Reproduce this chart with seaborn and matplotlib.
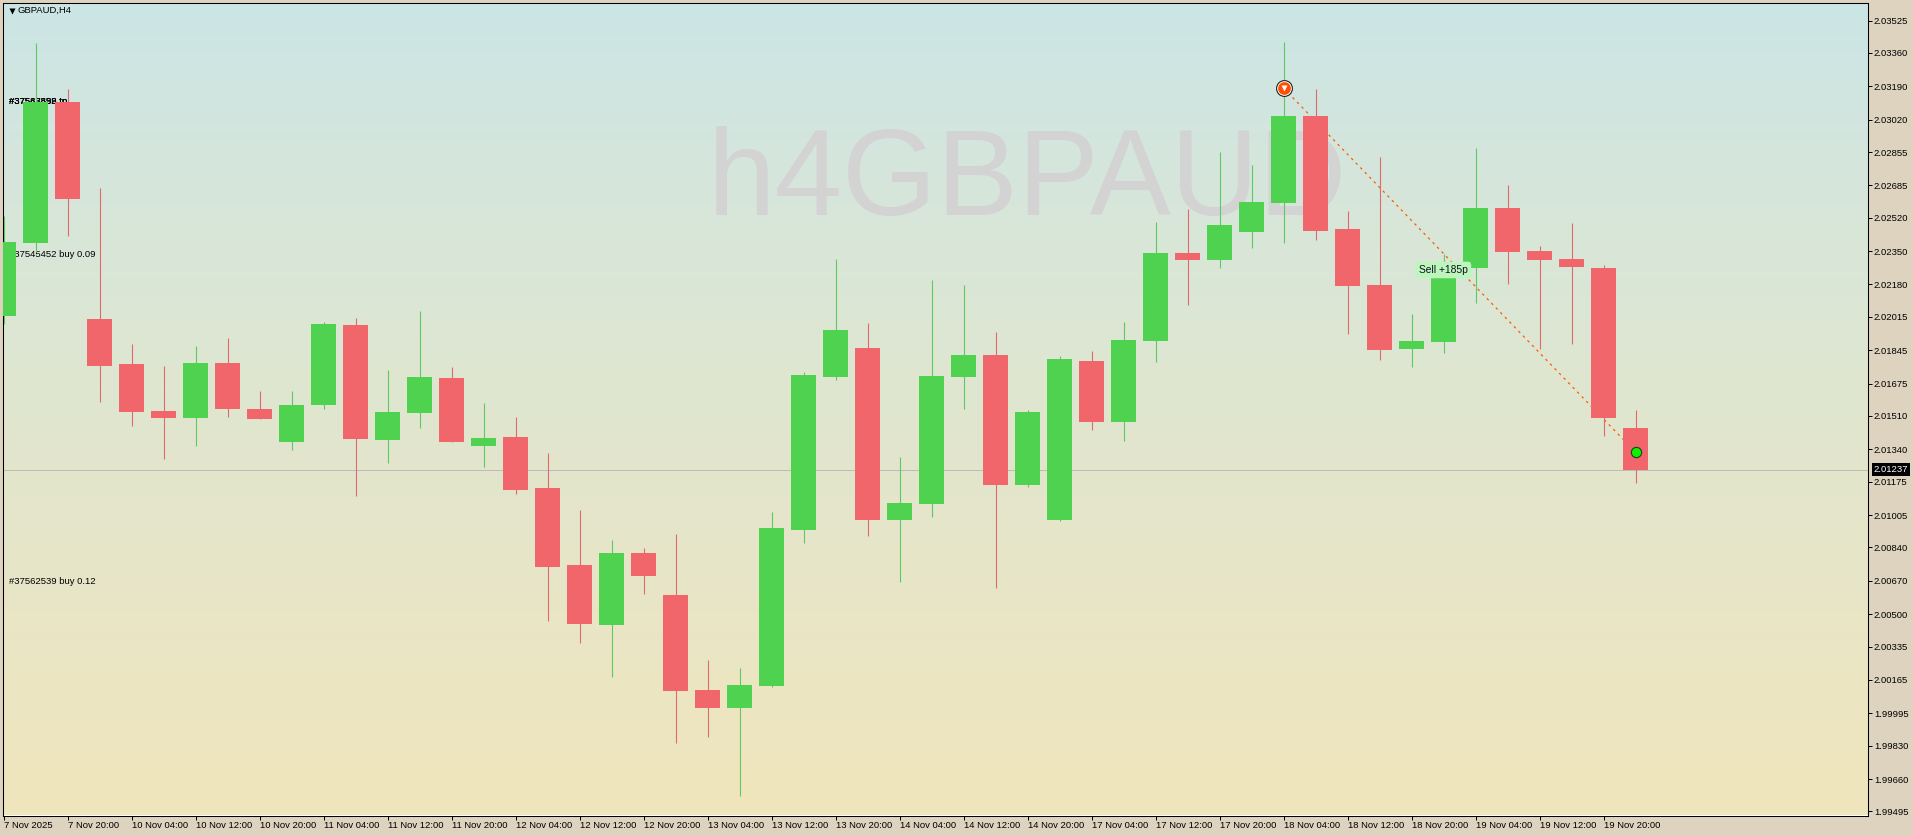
import numpy as np
import pandas as pd
import seaborn as sns
import matplotlib.pyplot as plt
from matplotlib.colors import LinearSegmentedColormap

opens = [2.02019, 2.02391, 2.03110, 2.02004, 2.01775, 2.01535, 2.01499, 2.01780, 2.01545, 2.01377,
         2.01566, 2.01973, 2.01387, 2.01525, 2.01703, 2.01357, 2.01403, 2.01143, 2.00750, 2.00445,
         2.00812, 2.00598, 2.00113, 2.00022, 2.00134, 2.00929, 2.01708, 2.01856, 2.00980, 2.01061,
         2.01708, 2.01821, 2.01158, 2.00980, 2.01790, 2.01479, 2.01892, 2.02340, 2.02305, 2.02447,
         2.02595, 2.03038, 2.02463, 2.02177, 2.01851, 2.01887, 2.02264, 2.02570, 2.02350, 2.02310,
         2.02264, 2.01449]
highs = [2.02529, 2.03410, 2.03176, 2.02672, 2.01877, 2.01764, 2.01866, 2.01907, 2.01637, 2.01637,
         2.01989, 2.02009, 2.01744, 2.02045, 2.01759, 2.01576, 2.01505, 2.01321, 2.01031, 2.00878,
         2.00837, 2.00908, 2.00266, 2.00225, 2.01020, 2.01734, 2.02310, 2.01984, 2.01301, 2.02203,
         2.02177, 2.01938, 2.01540, 2.01815, 2.01841, 2.01989, 2.02498, 2.02565, 2.02855, 2.02789,
         2.03415, 2.03176, 2.02554, 2.02830, 2.02029, 2.02335, 2.02875, 2.02687, 2.02376, 2.02493,
         2.02279, 2.01540]
lows = [2.01978, 2.02345, 2.02427, 2.01581, 2.01459, 2.01291, 2.01357, 2.01505, 2.01494, 2.01336,
        2.01545, 2.01102, 2.01270, 2.01449, 2.01377, 2.01250, 2.01112, 2.00465, 2.00353, 2.00180,
        2.00603, 1.99843, 1.99874, 1.99573, 2.00129, 2.00862, 2.01693, 2.00898, 2.00664, 2.00995,
        2.01545, 2.00633, 2.01148, 2.00975, 2.01438, 2.01382, 2.01785, 2.02075, 2.02264, 2.02366,
        2.02391, 2.02407, 2.01928, 2.01795, 2.01759, 2.01831, 2.02085, 2.02182, 2.01851, 2.01877,
        2.01408, 2.01168]
closes = [2.02396, 2.03110, 2.02615, 2.01764, 2.01530, 2.01499, 2.01780, 2.01545, 2.01494, 2.01566,
          2.01978, 2.01392, 2.01530, 2.01708, 2.01377, 2.01398, 2.01133, 2.00740, 2.00450, 2.00812,
          2.00694, 2.00109, 2.00022, 2.00139, 2.00939, 2.01719, 2.01948, 2.00980, 2.01066, 2.01714,
          2.01821, 2.01158, 2.01530, 2.01800, 2.01479, 2.01897, 2.02340, 2.02305, 2.02483, 2.02600,
          2.03038, 2.02452, 2.02172, 2.01846, 2.01892, 2.02213, 2.02570, 2.02345, 2.02305, 2.02269,
          2.01499, 2.01237]

time_labels = ["7 Nov 2025", "7 Nov 20:00", "10 Nov 04:00", "10 Nov 12:00", "10 Nov 20:00", "11 Nov 04:00",
               "11 Nov 12:00", "11 Nov 20:00", "12 Nov 04:00", "12 Nov 12:00", "12 Nov 20:00", "13 Nov 04:00",
               "13 Nov 12:00", "13 Nov 20:00", "14 Nov 04:00", "14 Nov 12:00", "14 Nov 20:00", "17 Nov 04:00",
               "17 Nov 12:00", "17 Nov 20:00", "18 Nov 04:00", "18 Nov 12:00", "18 Nov 20:00", "19 Nov 04:00",
               "19 Nov 12:00", "19 Nov 20:00"]
price_ticks = [2.03525, 2.03360, 2.03190, 2.03020, 2.02855, 2.02685, 2.02520, 2.02350, 2.02180,
               2.02015, 2.01845, 2.01675, 2.01510, 2.01340, 2.01175, 2.01005, 2.00840, 2.00670,
               2.00500, 2.00335, 2.00165, 1.99995, 1.99830, 1.99660, 1.99495]

last_price = 2.01237
trade_x = [40, 51]
trade_y = [2.03181, 2.01326]

GREEN = "#4fd250"
RED = "#f0666a"
GREEN_WICK = "#5cc962"
RED_WICK = "#e0696c"
OUTER = "#ded3bf"
FONT_PX = 9.5
FS = FONT_PX * 0.72

sns.set_theme(style="white")
plt.rcParams["font.family"] = ["Liberation Sans", "DejaVu Sans"]

df = pd.DataFrame({"pos": range(len(opens)), "open": opens, "high": highs, "low": lows, "close": closes})
df["up"] = df["close"] >= df["open"]
df["height"] = (df["close"] - df["open"]).abs()
df["base"] = df[["open", "close"]].min(axis=1)

W, H = 1913, 836
fig = plt.figure(figsize=(W / 100, H / 100), dpi=100, facecolor=OUTER)
ax = fig.add_axes([2.5 / W, 1 - 815.5 / H, 1865 / W, 813 / H])

xlim = (-0.03125, 58.25)
ylim = (1.99474, 2.03617)

# fondo degradado
cmap = LinearSegmentedColormap.from_list("bg", ["#cbe5e5", "#d7e6da", "#e0e6cf", "#e9e5c6", "#f0e6bc"])
ax.imshow(np.linspace(0, 1, 256).reshape(-1, 1), cmap=cmap, aspect="auto", zorder=0,
          extent=[xlim[0], xlim[1], ylim[0], ylim[1]], origin="upper")

ax.text(0.378, 0.7385, "h4GBPAUD", transform=ax.transAxes, fontsize=87.5, color="#d3d3d4",
        va="baseline", ha="left", zorder=1)
ax.axhline(last_price, color="#bdbdb5", lw=0.72, zorder=1.5)

# textos de las ordenes, quedan detras de las velas
x_txt = (9 - 3.5) / 32
for txt, price in [("#37545452 tp", 2.03115), ("#37562539 tp", 2.03115), ("#37587898 tp", 2.03115),
                   ("#37545452 buy 0.09", 2.02335), ("#37562539 buy 0.12", 2.00664)]:
    ax.text(x_txt, price, txt, fontsize=FS, color="black", va="center", ha="left", zorder=2)

ax.plot(trade_x, trade_y, color="#ff5a00", lw=0.9, ls=(0, (2, 3.2)), zorder=2)

for up, body, wick in [(True, GREEN, GREEN_WICK), (False, RED, RED_WICK)]:
    sub = df[df["up"] == up]
    ax.vlines(sub["pos"], sub["low"], sub["high"], color=wick, lw=0.8, zorder=2.5)
    sns.barplot(data=sub, x="pos", y="height", bottom=sub["base"].values, native_scale=True,
                width=25 / 32, color=body, saturation=1, errorbar=None, linewidth=0,
                zorder=3, ax=ax)

# marcadores de entrada y salida
ax.plot(trade_x[0], trade_y[0], "o", ms=11.4, mfc="white", mec="#222222", mew=0.8, zorder=5)
ax.plot(trade_x[0], trade_y[0], "o", ms=9.2, mfc="#ff5000", mec="none", zorder=5.1)
ax.plot(trade_x[0], trade_y[0] + 0.00001, "v", ms=5, mfc="white", mec="none", zorder=5.2)
ax.plot(trade_x[1], trade_y[1], "o", ms=7.4, mfc="#12f000", mec="#1d3a2a", mew=0.8, zorder=5)

ax.text(45, 2.02254, "Sell +185p", fontsize=7.4, color="#111122", ha="center", va="center", zorder=6,
        bbox=dict(boxstyle="round,pad=0.32", fc="#bdf6bd", ec="none"))

ax.set_xlim(xlim)
ax.set_ylim(ylim)
ax.set_xlabel("")
ax.set_ylabel("")

ax.set_xticks(range(0, 2 * len(time_labels), 2))
ax.set_xticklabels(time_labels, ha="left", fontsize=FS, color="black")
ax.yaxis.tick_right()
ax.set_yticks(price_ticks)
ax.set_yticklabels([f"{v:.5f}" for v in price_ticks], fontsize=FS, color="black")
ax.tick_params(axis="x", bottom=True, length=2.6, width=0.72, color="black", pad=1.6)
ax.tick_params(axis="y", right=True, length=2.6, width=0.72, color="black", pad=2)

for s in ax.spines.values():
    s.set_visible(True)
    s.set_color("black")
    s.set_linewidth(0.75)

# cabecera y precio actual
ax.plot(9.5 / 1865, 1 - 8.5 / 813, "v", ms=5, color="black", mec="none", transform=ax.transAxes,
        clip_on=False, zorder=6)
ax.text(15.5 / 1865, 1 - 8 / 813, "GBPAUD,H4", transform=ax.transAxes, fontsize=FS, color="black",
        va="center", ha="left", zorder=6)
ax.text(1.0032, last_price, f"{last_price:.5f}", transform=ax.get_yaxis_transform(), fontsize=FS,
        color="white", va="center", ha="left", clip_on=False, zorder=7,
        bbox=dict(boxstyle="square,pad=0.2", fc="black", ec="none"))

fig.savefig("out.png", dpi=100, facecolor=OUTER)
